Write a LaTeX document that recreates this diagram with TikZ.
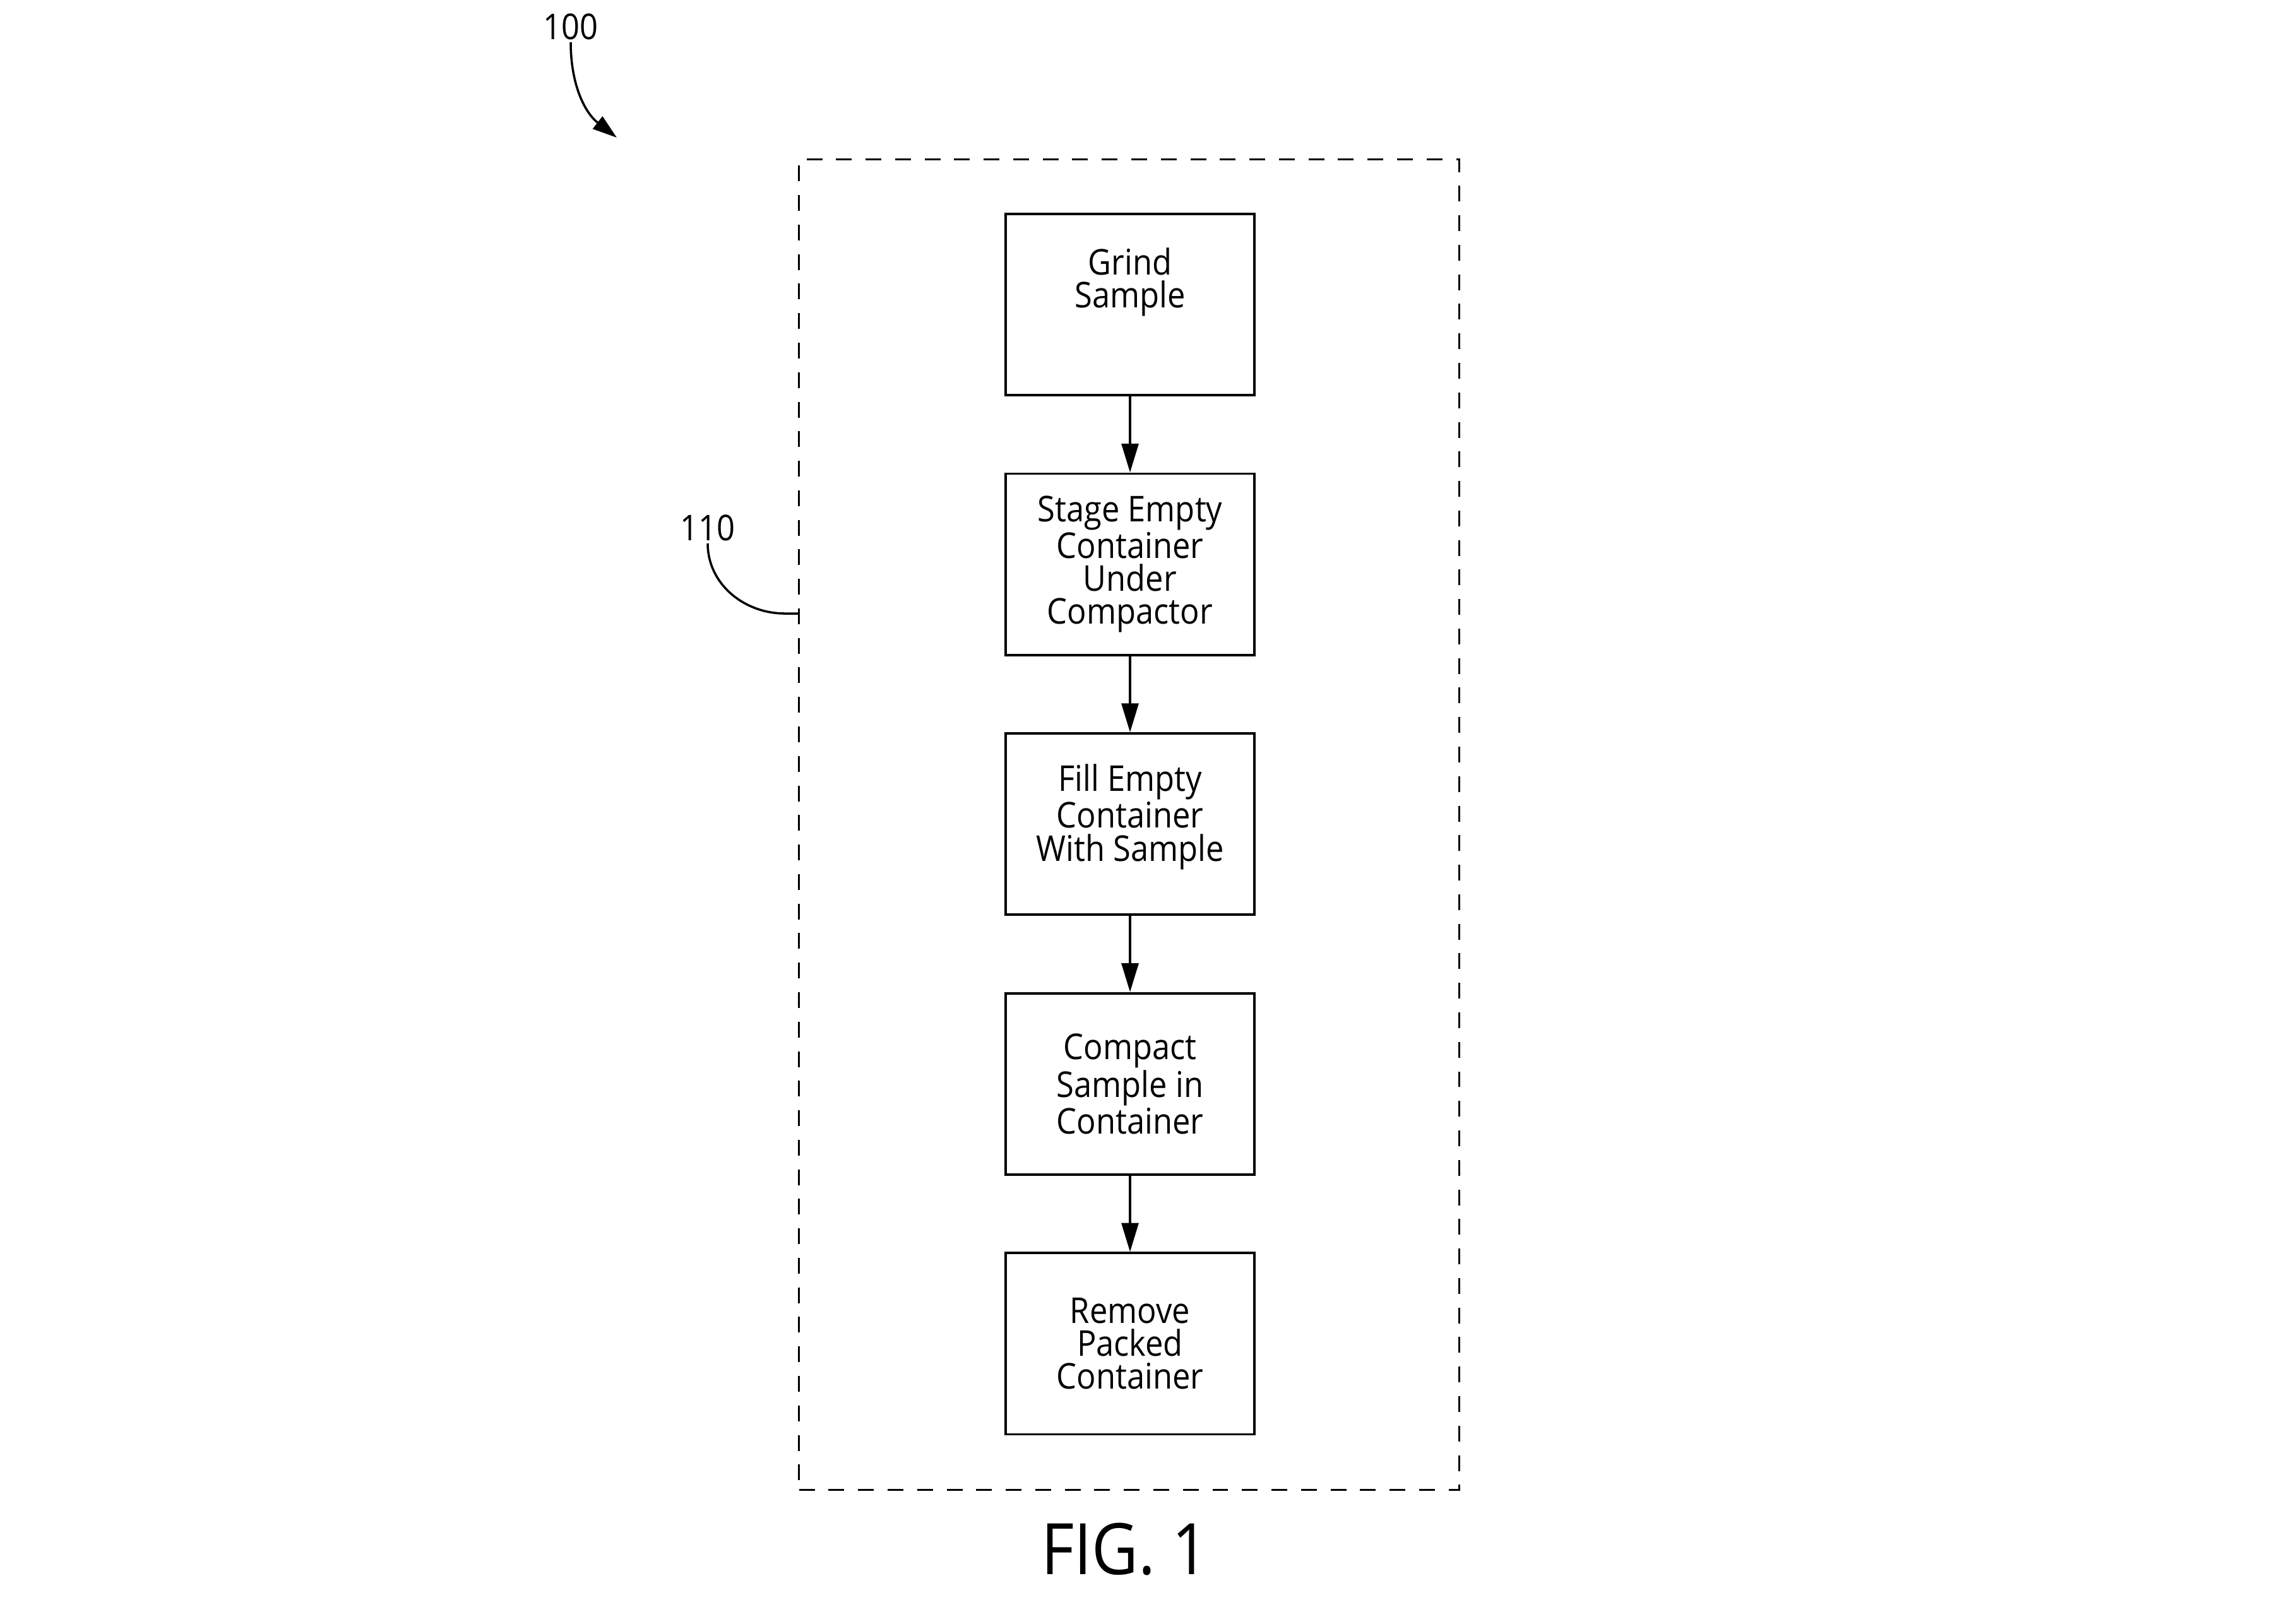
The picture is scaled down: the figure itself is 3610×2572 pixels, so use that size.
\documentclass[tikz,border=0pt]{standalone}
\usepackage{fontspec}
\setmainfont{Open Sans}[FakeStretch=0.9]
\usetikzlibrary{arrows.meta,positioning}

\begin{document}
\begin{tikzpicture}[x=0.01cm,y=0.01cm,
  every node/.style={font=\fontsize{16}{14.8}\selectfont},
  stepbox/.style={draw,line width=1.1pt,minimum width=3.93cm,
        minimum height=2.87cm,align=center,inner sep=0pt},
  flow/.style={line width=1.1pt,-{Triangle[length=13pt,width=7.6pt]}},
  lead/.style={line width=1pt},
  refnum/.style={inner sep=1pt},
  node distance=1.205cm]
  \useasboundingbox (0,0) rectangle (3610,-2572);
  % dashed group
  \node[draw,line width=1pt,dash pattern=on 7.1pt off 6.2pt,
        minimum width=10.45cm,minimum height=21.07cm] (group) at (1788.5,-1306.5) {};
  % process steps
  \node[stepbox] (grind) at (1790,-482.5) {};
  \node[align=center,inner sep=0pt] (grindtxt) at (1790,-447) {Grind\\Sample};
  \node[stepbox,below=of grind] (stage) {Stage Empty\\Container\\Under\\Compactor};
  \node[stepbox,below=of stage] (fill) {Fill Empty\\Container\\With Sample\\[-4.4pt]};
  \node[stepbox,below=of fill] (compact) {Compact\\Sample in\\Container};
  \node[stepbox,below=of compact] (remove) {Remove\\Packed\\Container};
  \draw[flow] (grind)--(stage);
  \draw[flow] (stage)--(fill);
  \draw[flow] (fill)--(compact);
  \draw[flow] (compact)--(remove);
  % reference numerals
  \node[refnum] (lbl100) at (904,-42) {100};
  \coordinate (tip100) at (977,-218);
  \draw[lead,-{Triangle[length=11pt,width=7pt]}] (lbl100.south) to[out=-90,in=142] (tip100);
  \node[refnum] (lbl110) at (1121,-836) {110};
  \coordinate (bend110) at (1243,-972);
  \coordinate (grpin) at (group.west |- bend110);
  \draw[lead] (lbl110.south) to[out=-90,in=180] (bend110) -- (grpin);
  \node[font=\fontsize{32}{36}\selectfont] (figlbl) at (1782,-2455) {FIG. 1};
\end{tikzpicture}
\end{document}
